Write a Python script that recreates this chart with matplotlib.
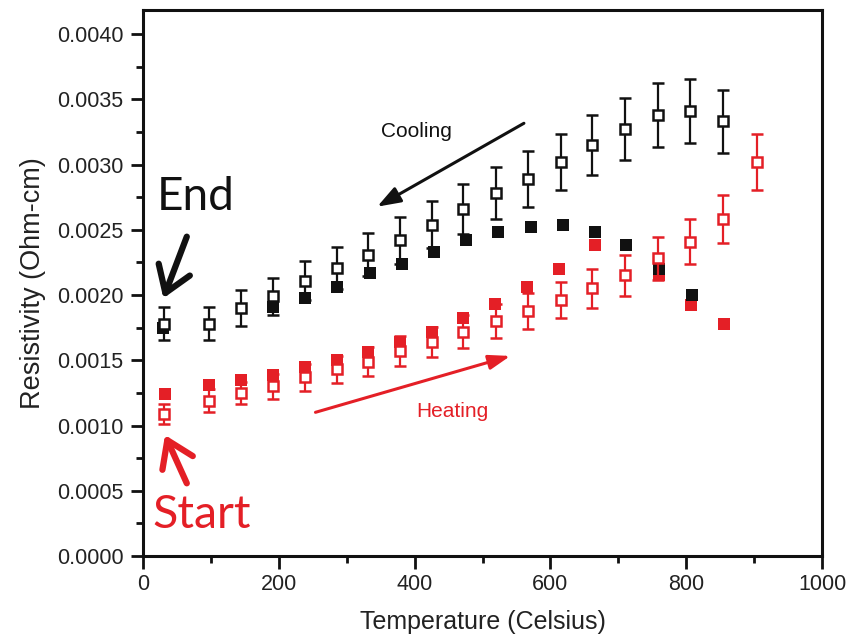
import matplotlib
matplotlib.use("Agg")
import matplotlib.pyplot as plt
from matplotlib.ticker import MultipleLocator, FormatStrFormatter

# Temperatures (Celsius) of the open-square measurements
open_T = [31, 97, 144, 192, 238, 285, 332, 379, 426, 472, 520, 567, 615, 662, 710, 758, 806, 854, 904]

# Heating run: open red squares with error bars
heat_open_rho = [0.00109, 0.00119, 0.00125, 0.00130, 0.00137, 0.00143, 0.00149, 0.00157,
                 0.00164, 0.00172, 0.00180, 0.00188, 0.00196, 0.00205, 0.00215, 0.00228,
                 0.00241, 0.00258, 0.00302]
heat_open_err = [0.000075, 0.000090, 0.000084, 0.000094, 0.000102, 0.000102, 0.000110,
                 0.000113, 0.000115, 0.000123, 0.000128, 0.000138, 0.000140, 0.000148,
                 0.000157, 0.000166, 0.000172, 0.000185, 0.000217]

# Cooling run: open black squares with error bars
cool_open_rho = [0.00178, 0.00178, 0.00190, 0.00199, 0.00211, 0.00221, 0.00231, 0.00242,
                 0.00254, 0.00266, 0.00278, 0.00289, 0.00302, 0.00315, 0.00327, 0.00338,
                 0.00341, 0.00333]
cool_open_err = [0.000125, 0.000125, 0.000138, 0.000143, 0.000148, 0.000161, 0.000166,
                 0.000179, 0.000179, 0.000192, 0.000199, 0.000215, 0.000217, 0.000228,
                 0.000236, 0.000243, 0.000245, 0.000241]

# Heating run: filled red squares
heat_fill_T = [32, 97, 144, 192, 239, 286, 332, 379, 426, 472, 519, 566, 613, 665, 760, 807, 856]
heat_fill_rho = [0.00124, 0.00131, 0.00135, 0.00139, 0.00145, 0.00150, 0.00156, 0.00164,
                 0.00172, 0.00182, 0.00193, 0.00206, 0.00220, 0.00238, 0.00215, 0.00192,
                 0.00178]

# Cooling run: filled black squares
cool_fill_T = [30, 192, 238, 285, 334, 382, 428, 476, 523, 571, 618, 665, 712, 760, 808]
cool_fill_rho = [0.001745, 0.00191, 0.00198, 0.00206, 0.00217, 0.00224, 0.00233, 0.00242,
                 0.00248, 0.00252, 0.00254, 0.00248, 0.00238, 0.00220, 0.00200]

RED = "#e41f26"
BLACK = "#111111"
SANS = ["Liberation Sans", "DejaVu Sans"]
HAND = ["Lato", "DejaVu Sans"]

fig = plt.figure(figsize=(8.65, 6.36), dpi=100)
ax = fig.add_axes([143 / 865, 80 / 636, 679 / 865, 546 / 636])

# filled squares underneath
ax.plot(heat_fill_T, heat_fill_rho, ls="none", marker="s", ms=8.5, mew=0,
        color=RED, zorder=2)
ax.plot(cool_fill_T, cool_fill_rho, ls="none", marker="s", ms=8.5, mew=0,
        color=BLACK, zorder=3)

# open squares with error bars on top
ax.errorbar(open_T, heat_open_rho, yerr=heat_open_err, ls="none", marker="s",
            ms=6.5, mew=1.8, mfc="white", mec=RED, ecolor=RED, elinewidth=1.6,
            capsize=4, capthick=1.6, zorder=4)
ax.errorbar(open_T[:len(cool_open_rho)], cool_open_rho, yerr=cool_open_err, ls="none",
            marker="s", ms=6.5, mew=1.8, mfc="white", mec=BLACK, ecolor=BLACK,
            elinewidth=1.6, capsize=4, capthick=1.6, zorder=5)

ax.set_xlim(0, 1000)
ax.set_ylim(0, 0.004184)
ax.xaxis.set_major_locator(MultipleLocator(200))
ax.xaxis.set_minor_locator(MultipleLocator(100))
ax.yaxis.set_major_locator(MultipleLocator(0.0005))
ax.yaxis.set_minor_locator(MultipleLocator(0.00025))
ax.yaxis.set_major_formatter(FormatStrFormatter("%.4f"))

for s in ax.spines.values():
    s.set_linewidth(2.2)
    s.set_color(BLACK)
ax.tick_params(which="both", direction="out", width=2, color=BLACK,
               top=False, right=False)
ax.tick_params(which="major", length=9, labelsize=15.5, pad=4)
ax.tick_params(which="minor", length=5)
ax.tick_params(axis="y", which="major", pad=5)
for lab in ax.get_xticklabels() + ax.get_yticklabels():
    lab.set_family(SANS)
    lab.set_color("#222222")

ax.set_xlabel("Temperature (Celsius)", family=SANS, fontsize=18, color="#222222",
              labelpad=11)
ax.set_ylabel("Resistivity (Ohm-cm)", family=SANS, fontsize=19.5, color="#222222",
              labelpad=8)

# direction annotations
ax.text(350, 0.003211, "Cooling", family=SANS, fontsize=15, color=BLACK,
        ha="left", va="baseline")
ax.annotate("", xy=(345, 0.002677), xytext=(561, 0.003316),
            arrowprops=dict(arrowstyle="-|>,head_length=0.7,head_width=0.25",
                            lw=2.2, color=BLACK, mutation_scale=20,
                            shrinkA=0, shrinkB=0))
ax.text(403, 0.001067, "Heating", family=SANS, fontsize=15, color=RED,
        ha="left", va="baseline")
ax.annotate("", xy=(541, 0.001533), xytext=(254, 0.001101),
            arrowprops=dict(arrowstyle="-|>,head_length=0.65,head_width=0.22",
                            lw=2.2, color=RED, mutation_scale=20,
                            shrinkA=0, shrinkB=0))

ax.text(20, 0.002651, "End", family=HAND, fontsize=33, color=BLACK,
        ha="left", va="baseline")
ax.annotate("", xy=(30, 0.001975), xytext=(64.5, 0.002447),
            arrowprops=dict(arrowstyle="->,head_length=0.9,head_width=0.6",
                            lw=4.5, color=BLACK, mutation_scale=20,
                            shrinkA=0, shrinkB=0))
ax.text(14, 0.000212, "Start", family=HAND, fontsize=33.5, color=RED,
        ha="left", va="baseline")
ax.annotate("", xy=(32.4, 0.000927), xytext=(64.5, 0.000557),
            arrowprops=dict(arrowstyle="->,head_length=0.9,head_width=0.6",
                            lw=4.5, color=RED, mutation_scale=20,
                            shrinkA=0, shrinkB=0))

fig.savefig("out.png", dpi=100)
